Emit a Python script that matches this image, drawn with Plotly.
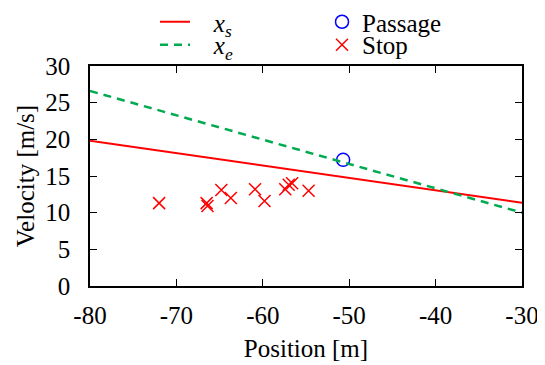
import plotly.graph_objects as go

# lines (endpoints)
line_x = [-80, -30]
xs_vals = [19.8, 11.35]
xe_vals = [26.6, 10.0]

# passage point
pass_x = [-50.7]
pass_y = [17.2]

# stop points
stop_x = [-72.0, -66.5, -66.4, -64.8, -63.7, -60.9, -59.8, -57.4, -57.0, -56.6, -54.7]
stop_y = [11.3, 11.3, 10.9, 13.1, 12.0, 13.2, 11.6, 13.2, 13.8, 14.0, 13.0]

x_ticks = [-80, -70, -60, -50, -40, -30]
y_ticks = [0, 5, 10, 15, 20, 25, 30]

FONT = "Liberation Serif, Times New Roman, Tinos, DejaVu Serif, serif"
FS = 25
PAD = "\u00a0\u00a0\u00a0"

fig = go.Figure()
fig.add_trace(go.Scatter(x=line_x, y=xs_vals, mode="lines", name=PAD + "<i>x<sub>s</sub></i>",
                         line=dict(color="#ff0000", width=2), legend="legend"))
fig.add_trace(go.Scatter(x=pass_x, y=pass_y, mode="markers", name="Passage",
                         marker=dict(symbol="circle-open", size=13, color="#0000ff",
                                     line=dict(color="#0000ff", width=1.5)), legend="legend"))
fig.add_trace(go.Scatter(x=line_x, y=xe_vals, mode="lines", name=PAD + "<i>x<sub>e</sub></i>",
                         line=dict(color="#00aa50", width=2.5, dash="8px,6px"), legend="legend2"))
fig.add_trace(go.Scatter(x=stop_x, y=stop_y, mode="markers", name="Stop",
                         marker=dict(symbol="x-thin", size=12, color="#ff0000",
                                     line=dict(color="#ff0000", width=1.5)), legend="legend2"))

axis_common = dict(showline=True, linecolor="black", linewidth=1.5, mirror="ticks",
                   ticks="inside", ticklen=7, tickwidth=1.2, tickcolor="black",
                   showgrid=False, zeroline=False,
                   tickfont=dict(family=FONT, size=FS, color="black"))

fig.update_xaxes(range=[-80, -30], tickvals=x_ticks, ticktext=[str(v) for v in x_ticks],
                 ticklabelstandoff=6,
                 title=dict(text="Position [m]", font=dict(family=FONT, size=FS, color="black"), standoff=12),
                 **axis_common)
fig.update_yaxes(range=[0, 30], tickvals=y_ticks, ticktext=[str(v) for v in y_ticks],
                 ticklabelstandoff=13,
                 title=dict(text="Velocity [m/s]", font=dict(family=FONT, size=FS, color="black"), standoff=4),
                 **axis_common)

leg_common = dict(orientation="h", xanchor="left", yanchor="middle",
                  entrywidth=122, entrywidthmode="pixels", tracegroupgap=0,
                  font=dict(family=FONT, size=FS, color="black"),
                  bgcolor="rgba(0,0,0,0)", itemwidth=30)

fig.update_layout(
    width=537, height=357,
    margin=dict(l=82, r=23, t=58, b=79, autoexpand=False),
    plot_bgcolor="white", paper_bgcolor="white",
    font=dict(family=FONT, size=FS, color="black"),
    legend=dict(x=0.1505, y=1.2, **leg_common),
    legend2=dict(x=0.1505, y=1.0955, **leg_common),
)

fig.write_html("out.html")
